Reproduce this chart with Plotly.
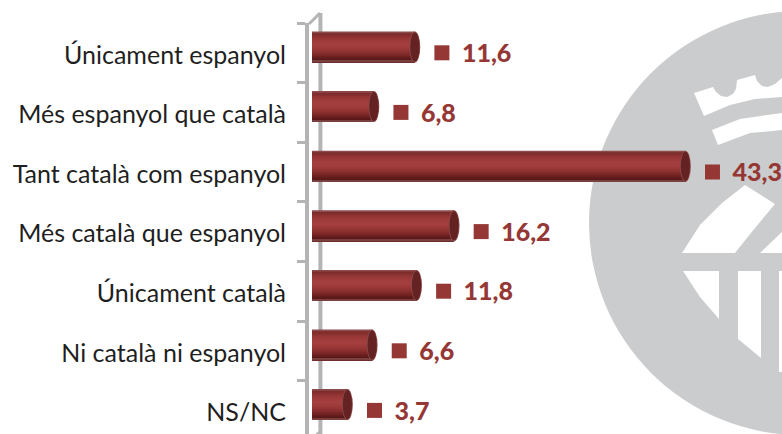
import plotly.graph_objects as go

categories = ["Únicament espanyol", "Més espanyol que català", "Tant català com espanyol",
              "Més català que espanyol", "Únicament català", "Ni català ni espanyol", "NS/NC"]
values = [11.6, 6.8, 43.3, 16.2, 11.8, 6.6, 3.7]
value_labels = ["11,6", "6,8", "43,3", "16,2", "11,8", "6,6", "3,7"]
shade_colors = ["#8c4a4a", "#7c2c2c", "#872f2f", "#913434", "#983737", "#9d3a3a", "#a13d3d", "#a33f3f",
                "#a33f3f", "#a03c3c", "#9b3939", "#953535", "#8e3131", "#852c2c", "#7b2727", "#6f2121",
                "#621c1c", "#581818", "#7a4040"]

W, H = 782, 434
L = 309            # left edge of plot = front axis line
X0 = 320.4         # pixel of value 0 (back wall)
SCALE = 8.535      # pixels per unit
STEP = 59.6        # pixels per category
FRONT_TOP = 23
BAR_C0 = 47
BAR_H = 31

xr = [(L - X0) / SCALE, (W - X0) / SCALE]
def px(x): return (x - L) / (W - L)
def py(y): return 1 - y / H
def p(points, close=True):
    s = "M " + " L ".join(f"{px(x):.4f},{py(y):.4f}" for x, y in points)
    return s + (" Z" if close else "")

BAR_H_U = BAR_H / STEP
CAP = 4.6 / SCALE
START = (312 - X0) / SCALE

fig = go.Figure()
n = len(shade_colors)
for i, c in enumerate(shade_colors):
    top = -BAR_H_U / 2 + i * BAR_H_U / n
    fig.add_trace(go.Bar(
        y=categories, x=[v - CAP - START for v in values], base=[START] * len(values),
        orientation="h", yaxis="y2", width=BAR_H_U - i * BAR_H_U / n, offset=top,
        marker=dict(color=c, line_width=0), hoverinfo="skip", showlegend=False))

sq = 22.5 / SCALE
txt = 20 / SCALE
fig.add_trace(go.Scatter(
    y=categories, x=[v + sq for v in values], mode="markers", yaxis="y",
    marker=dict(symbol="square", size=15, color="#953735"), showlegend=False, cliponaxis=False))
fig.add_trace(go.Scatter(
    y=categories, x=[v + sq + txt for v in values], mode="text", yaxis="y3",
    text=value_labels, textposition="middle right", cliponaxis=False, showlegend=False,
    textfont=dict(family="Lato", size=25, color="#953735", weight=900)))

grey = "#b4b4b4"
shapes = []
# background emblem
emblem = "#cbcccd"
shapes.append(dict(type="circle", xref="paper", yref="paper", layer="below", line_width=0, fillcolor=emblem,
                   x0=px(589), x1=px(589 + 424), y0=py(223 + 212), y1=py(223 - 212)))
for pts in [
    [(694, 93), (713, 87), (716, 92), (721, 96), (727, 97), (733, 94), (736, 89), (737, 80), (755, 75), (757, 81), (762, 86),
     (768, 87), (775, 84), (782, 78), (782, 97), (755, 99), (730, 105), (704, 116)],
    [(712, 130), (740, 119), (782, 113), (782, 130), (750, 133), (718, 145)],
    [(682, 253), (700, 225), (722, 203), (745, 185), (775, 204), (755, 228), (735, 253)],
    [(760, 253), (782, 232), (782, 253)],
    [(683, 271), (719, 271), (719, 319), (700, 297)],
    [(738, 271), (761, 271), (761, 358), (738, 339)],
    [(779, 271), (782, 271), (782, 372), (779, 372)],
]:
    shapes.append(dict(type="path", xref="paper", yref="paper", layer="below", line_width=0, fillcolor="white", path=p(pts)))
# 3D wall lines
shapes.append(dict(type="line", xref="x", yref="paper", layer="below", x0=0, x1=0, y0=0, y1=py(13),
                   line=dict(color=grey, width=4)))
shapes.append(dict(type="path", xref="paper", yref="paper", layer="below", line=dict(color=grey, width=3),
                   path=p([(309, 24), (320, 13)], close=False)))
shapes.append(dict(type="path", xref="paper", yref="paper", layer="below", line=dict(color=grey, width=3),
                   path=p([(313, 438), (321, 431)], close=False)))
# cylinder ends
for i, v in enumerate(values):
    yc = (i * STEP + BAR_C0)
    shapes.append(dict(type="circle", xref="x", yref="paper", layer="above", line_width=0, fillcolor="#8c4a4a",
                       x0=v - 2 * CAP - 0.1, x1=v + 0.1, y0=py(yc + BAR_H / 2), y1=py(yc - BAR_H / 2)))
    shapes.append(dict(type="circle", xref="x", yref="paper", layer="above", line_width=0, fillcolor="#642222",
                       x0=v - 2 * CAP, x1=v, y0=py(yc + BAR_H / 2 - 1), y1=py(yc - BAR_H / 2 + 1)))

y_range = [-0.5 + (H - FRONT_TOP) / STEP, -0.5]
shift = (FRONT_TOP + STEP / 2 - BAR_C0) / STEP
text_shift = -3 / STEP

fig.update_layout(
    width=W, height=H, autosize=False, margin=dict(l=L, r=0, t=0, b=0),
    paper_bgcolor="white", plot_bgcolor="rgba(0,0,0,0)", barmode="overlay", showlegend=False,
    font=dict(family="Lato", color="#1f1f1f"), shapes=shapes,
    xaxis=dict(range=xr, visible=False, fixedrange=True),
    yaxis=dict(domain=[0, (H - FRONT_TOP) / H], type="category", categoryorder="array", categoryarray=categories,
               range=y_range, tickson="boundaries", ticks="outside", ticklen=8,
               tickwidth=2.5, tickcolor=grey, showline=True, linecolor=grey, linewidth=4, showgrid=False,
               zeroline=False, tickfont=dict(size=25, family="Lato", color="#1f1f1f"), ticklabelstandoff=14,
               ticklabelshift=-2, anchor="x", fixedrange=True),
    yaxis2=dict(overlaying="y", type="category", categoryorder="array", categoryarray=categories,
                range=[y_range[0] + shift, y_range[1] + shift], visible=False, fixedrange=True, anchor="x"),
    yaxis3=dict(overlaying="y", type="category", categoryorder="array", categoryarray=categories,
                range=[y_range[0] + text_shift, y_range[1] + text_shift], visible=False, fixedrange=True, anchor="x"),
)
fig.write_html("out.html", config=dict(displayModeBar=False),
               post_script="document.body.style.margin='0';document.body.style.overflow='hidden';document.documentElement.style.overflow='hidden';")
